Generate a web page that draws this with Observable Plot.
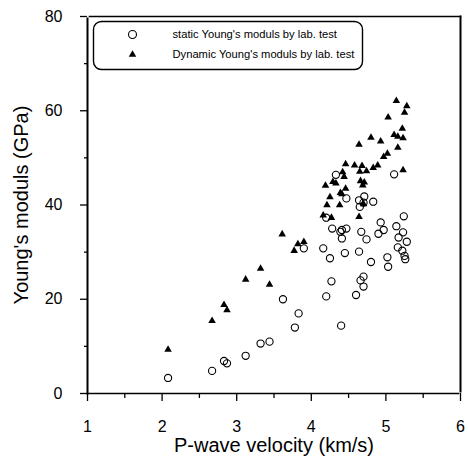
<!DOCTYPE html>
<html>
<head>
<meta charset="utf-8">
<script src="https://cdn.jsdelivr.net/npm/d3@7"></script>
<script src="https://cdn.jsdelivr.net/npm/@observablehq/plot@0.6"></script>
<style>
  html, body { margin: 0; padding: 0; background: white; }
</style>
</head>
<body>
<div id="wrap"></div>
<script>
const xTitle = "P-wave velocity (km/s)";
const yTitle = "Young's moduls (GPa)";
const legendLabels = ["static Young's moduls by lab. test", "Dynamic Young's moduls by lab. test"];
const xMajorTicks = [1, 2, 3, 4, 5, 6];
const xMinorTicks = [1.5, 2.5, 3.5, 4.5, 5.5];
const yMajorTicks = [0, 20, 40, 60, 80];
const yMinorTicks = [10, 30, 50, 70];

// static Young's modulus (open circles)
const staticX = [2.08, 2.67, 2.83, 2.87, 3.12, 3.32, 3.44, 3.62, 3.78, 3.83, 3.90, 4.16, 4.20, 4.20, 4.25, 4.27, 4.28, 4.33, 4.39, 4.40, 4.41, 4.41, 4.45, 4.47, 4.47, 4.60, 4.64, 4.64, 4.65, 4.66, 4.67, 4.70, 4.70, 4.70, 4.71, 4.74, 4.80, 4.83, 4.90, 4.93, 4.97, 5.02, 5.03, 5.11, 5.14, 5.17, 5.16, 5.22, 5.23, 5.24, 5.25, 5.26, 5.28];
const staticY = [3.3, 4.8, 6.9, 6.4, 8.0, 10.6, 11.0, 20.0, 14.0, 17.0, 30.8, 30.8, 20.6, 37.3, 28.7, 23.8, 35.0, 46.4, 34.3, 14.4, 32.9, 34.7, 29.8, 35.0, 41.4, 20.9, 41.0, 30.1, 39.6, 24.0, 34.3, 40.5, 24.8, 22.7, 41.8, 32.7, 27.9, 40.7, 33.9, 36.3, 34.7, 28.9, 26.9, 46.5, 35.5, 33.1, 31.0, 30.3, 34.2, 37.6, 29.2, 28.5, 32.2];

// dynamic Young's modulus (filled triangles)
const dynX = [2.08, 2.67, 2.83, 2.87, 3.12, 3.32, 3.44, 3.61, 3.77, 3.82, 3.90, 4.16, 4.19, 4.21, 4.25, 4.27, 4.29, 4.33, 4.38, 4.39, 4.42, 4.44, 4.46, 4.46, 4.41, 4.58, 4.64, 4.64, 4.65, 4.66, 4.68, 4.69, 4.71, 4.74, 4.70, 4.80, 4.83, 4.89, 4.93, 4.97, 5.02, 5.03, 5.11, 5.14, 5.16, 5.16, 5.22, 5.23, 5.23, 5.25, 5.28];
const dynY = [9.3, 15.4, 18.8, 17.7, 24.2, 26.5, 23.1, 33.8, 30.3, 31.7, 32.2, 37.8, 44.1, 40.0, 41.7, 37.3, 44.9, 44.6, 40.0, 42.6, 47.0, 46.0, 48.7, 43.5, 42.3, 48.4, 52.8, 37.5, 47.1, 45.1, 48.3, 44.2, 44.8, 47.2, 40.2, 54.3, 47.9, 48.4, 53.5, 50.2, 50.9, 58.6, 54.9, 62.1, 52.2, 54.5, 56.2, 47.4, 54.2, 59.6, 61.0];

const staticData = staticX.map((x, i) => ({x, y: staticY[i]}));
const dynData = dynX.map((x, i) => ({x, y: dynY[i]}));

// legend box (layout only), drawn inside the plot's own SVG
function legendBox(index, scales, values, dimensions) {
  const {marginLeft, marginTop} = dimensions;
  const g = d3.create("svg:g").attr("aria-label", "legend box");
  g.append("rect")
    .attr("x", marginLeft + 6.5).attr("y", marginTop + 5.5)
    .attr("width", 269).attr("height", 48)
    .attr("rx", 8).attr("ry", 8)
    .attr("fill", "none").attr("stroke", "black").attr("stroke-width", 1.4);
  return g.node();
}

const chart = Plot.plot({
  width: 468,
  height: 458,
  marginLeft: 87,
  marginRight: 8,
  marginTop: 16,
  marginBottom: 65,
  style: {fontFamily: "'Liberation Sans', Arial, sans-serif", fontSize: "16px", color: "black", background: "white"},
  x: {domain: [1, 6]},
  y: {domain: [0, 80]},
  marks: [
    Plot.frame({anchor: "left", stroke: "black", strokeWidth: 2, insetTop: 2}),
    Plot.frame({anchor: "bottom", stroke: "black", strokeWidth: 1.6, insetRight: 2}),
    Plot.frame({anchor: "top", stroke: "black", strokeWidth: 1.6, insetLeft: 2}),
    Plot.frame({anchor: "right", stroke: "black", strokeWidth: 2, insetBottom: 2}),
    Plot.axisX({ticks: xMajorTicks, tickSize: 8, text: null, label: null, strokeWidth: 1.3}),
    Plot.axisX({ticks: xMinorTicks, tickSize: 5, text: null, label: null, strokeWidth: 1.3}),
    Plot.axisY({ticks: yMajorTicks, tickSize: 7, text: null, label: null, strokeWidth: 1.3}),
    Plot.axisY({ticks: yMinorTicks, tickSize: 3, text: null, label: null, strokeWidth: 1.3}),
    Plot.text(xMajorTicks, {x: d => d, frameAnchor: "bottom", dy: 33, fontSize: 16, lineAnchor: "middle"}),
    Plot.text(yMajorTicks, {y: d => d, frameAnchor: "left", dx: -25, textAnchor: "end", fontSize: 16, lineAnchor: "middle"}),
    Plot.text([xTitle], {frameAnchor: "bottom", dy: 52, fontSize: 20, lineAnchor: "middle"}),
    Plot.axisY({ticks: [], tickSize: 0, label: yTitle, labelAnchor: "center", labelArrow: "none", labelOffset: 74, fontSize: 20}),
    Plot.dot(staticData, {x: "x", y: "y", r: 3.6, stroke: "black", strokeWidth: 1.1, fill: "none"}),
    Plot.dot(dynData, {x: "x", y: "y", r: 2.8, symbol: "triangle", fill: "black", stroke: "none"}),
    legendBox,
    Plot.dot([legendLabels[0]], {frameAnchor: "top-left", dx: 45, dy: 18, r: 4, stroke: "black", strokeWidth: 1.1, fill: "none"}),
    Plot.dot([legendLabels[1]], {frameAnchor: "top-left", dx: 45, dy: 38, r: 2.8, symbol: "triangle", fill: "black", stroke: "none"}),
    Plot.text([legendLabels[0]], {frameAnchor: "top-left", dx: 85, dy: 18, textAnchor: "start", lineAnchor: "middle", fontSize: 11.2}),
    Plot.text([legendLabels[1]], {frameAnchor: "top-left", dx: 85, dy: 38, textAnchor: "start", lineAnchor: "middle", fontSize: 11.2})
  ]
});
document.getElementById("wrap").appendChild(chart);
</script>
</body>
</html>
